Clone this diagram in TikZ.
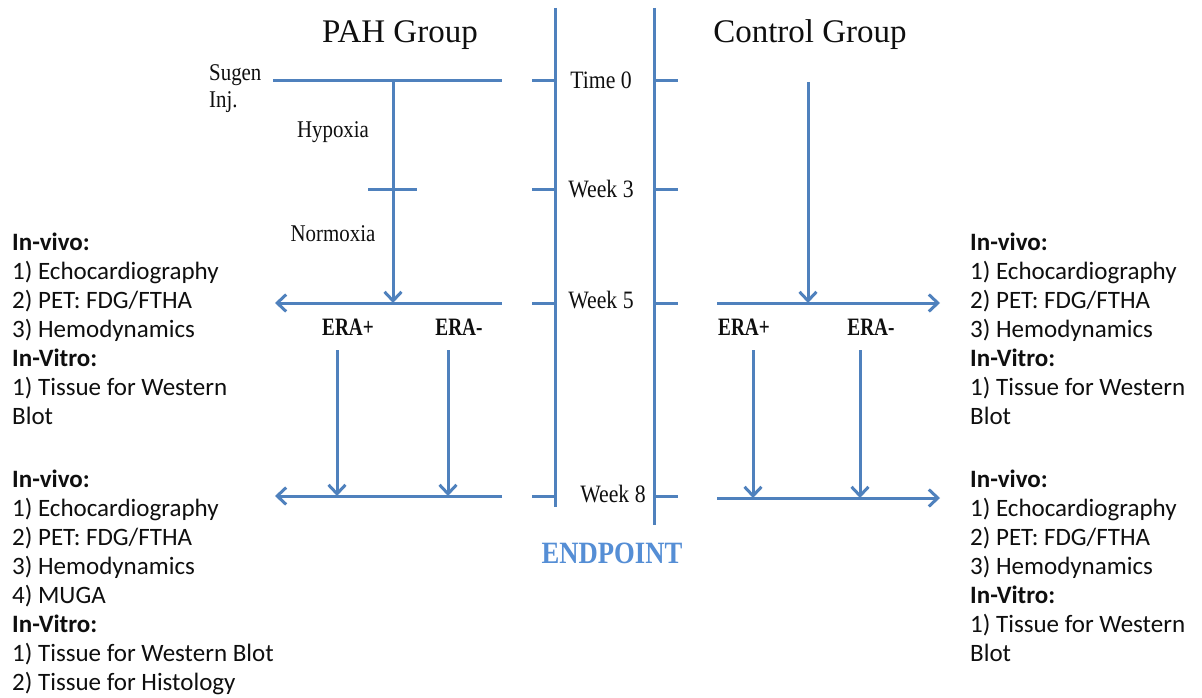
\documentclass[tikz,border=0pt]{standalone}
\usepackage{fontspec}
\setmainfont{Liberation Serif}
\newfontfamily\bodyfont{Carlito}
\newfontfamily\labelfont[FakeStretch=0.87]{Liberation Serif}
\newfontfamily\erafont[FakeStretch=0.77]{Liberation Serif}
\newfontfamily\endfont[FakeStretch=0.86]{Liberation Serif}
\usetikzlibrary{arrows.meta}
\definecolor{axisblue}{RGB}{79,129,189}
\definecolor{endblue}{RGB}{85,142,213}
\definecolor{inkgray}{RGB}{15,15,15}
\newcommand{\itemlines}[1]{\vtop{\baselineskip=29pt #1}}
\begin{document}
\begin{tikzpicture}[x=1pt,y=-1pt,
  link/.style={draw=axisblue,line width=3pt},
  flow/.style={link,-{Straight Barb[length=9pt,width=17pt]}},
  title/.style={inner sep=0pt,anchor=base,text=inkgray,font=\fontsize{33}{36}\selectfont},
  timelbl/.style={inner sep=0pt,anchor=base,text=inkgray,font=\labelfont\fontsize{25}{28}\selectfont},
  phase/.style={inner sep=0pt,anchor=base,text=inkgray,font=\labelfont\fontsize{24}{27}\selectfont},
  era/.style={inner sep=0pt,anchor=base,text=inkgray,font=\erafont\bfseries\fontsize{25}{28}\selectfont},
  listtext/.style={inner sep=0pt,anchor=base west,text=inkgray,font=\bodyfont\fontsize{25}{29}\selectfont},
]
\useasboundingbox[fill=white] (0,0) rectangle (1202,698);

% titles
\node[title] (pahTitle) at (400,43) {PAH Group};
\node[title] (ctlTitle) at (810,43) {Control Group};

% the two time axes with their week ticks
\coordinate (axLtop) at (555,8);   \coordinate (axLbot) at (555,507);
\coordinate (axRtop) at (654,8);   \coordinate (axRbot) at (654,525);
\draw[link] (axLtop) -- (axLbot);
\draw[link] (axRtop) -- (axRbot);
\foreach \y/\n in {81/t0,189/w3,303/w5,496/w8}{
  \coordinate (tickL\n a) at (532,\y); \coordinate (tickL\n b) at (555,\y);
  \coordinate (tickR\n a) at (654,\y); \coordinate (tickR\n b) at (678,\y);
  \draw[link] (tickL\n a) -- (tickL\n b);
  \draw[link] (tickR\n a) -- (tickR\n b);
}
\node[timelbl] (t0) at (601,89) {Time 0};
\node[timelbl] (w3) at (601,197) {Week 3};
\node[timelbl] (w5) at (601,308) {Week 5};
\node[timelbl] (w8) at (613,502) {Week 8};
\node[inner sep=0pt,anchor=base,text=endblue,font=\endfont\bfseries\fontsize{31}{34}\selectfont] (endpt) at (612,563) {ENDPOINT};

% PAH group timeline
\coordinate (sugL) at (273,81);  \coordinate (sugR) at (502,81);
\coordinate (pahTop) at (393,81); \coordinate (pahMid) at (393,303);
\coordinate (hypL) at (368,189);  \coordinate (hypR) at (417,189);
\coordinate (pw5R) at (502,303);  \coordinate (pw5L) at (275,303);
\coordinate (pw8R) at (502,496);  \coordinate (pw8L) at (275,496);
\coordinate (pEpT) at (337,350);  \coordinate (pEpB) at (337,496);
\coordinate (pEmT) at (448,350);  \coordinate (pEmB) at (448,496);
\draw[link] (sugL) -- (sugR);
\draw[link] (hypL) -- (hypR);
\draw[flow] (pahTop) -- (pahMid);
\draw[flow] (pw5R) -- (pw5L);
\draw[flow] (pEpT) -- (pEpB);
\draw[flow] (pEmT) -- (pEmB);
\draw[flow] (pw8R) -- (pw8L);

\node[phase,anchor=base west] (sugen) at (209,81) {\vtop{\baselineskip=27pt\hbox{Sugen}\hbox{Inj.}}};
\node[phase] (hypoxia) at (333,138) {Hypoxia};
\node[phase] (normoxia) at (333,241) {Normoxia};
\node[era] (pEraP) at (348,335) {ERA+};
\node[era] (pEraM) at (459,335) {ERA-};

% control group timeline
\coordinate (cTop) at (808,82);  \coordinate (cMid) at (808,303);
\coordinate (cw5L) at (717,303); \coordinate (cw5R) at (940,303);
\coordinate (cw8L) at (717,498); \coordinate (cw8R) at (940,498);
\coordinate (cEpT) at (753,350); \coordinate (cEpB) at (753,498);
\coordinate (cEmT) at (860,350); \coordinate (cEmB) at (860,498);
\draw[flow] (cTop) -- (cMid);
\draw[flow] (cw5L) -- (cw5R);
\draw[flow] (cEpT) -- (cEpB);
\draw[flow] (cEmT) -- (cEmB);
\draw[flow] (cw8L) -- (cw8R);
\node[era] (cEraP) at (744,335) {ERA+};
\node[era] (cEraM) at (871,335) {ERA-};

% measurement lists
\node[listtext] (pahW5) at (12,250) {\itemlines{%
  \hbox{\bfseries In-vivo:}\hbox{1) Echocardiography}\hbox{2) PET: FDG/FTHA}\hbox{3) Hemodynamics}%
  \hbox{\bfseries In-Vitro:}\hbox{1) Tissue for Western}\hbox{Blot}}};
\node[listtext] (pahW8) at (12,487) {\itemlines{%
  \hbox{\bfseries In-vivo:}\hbox{1) Echocardiography}\hbox{2) PET: FDG/FTHA}\hbox{3) Hemodynamics}\hbox{4) MUGA}%
  \hbox{\bfseries In-Vitro:}\hbox{1) Tissue for Western Blot}\hbox{2) Tissue for Histology}}};
\node[listtext] (ctlW5) at (970,250) {\itemlines{%
  \hbox{\bfseries In-vivo:}\hbox{1) Echocardiography}\hbox{2) PET: FDG/FTHA}\hbox{3) Hemodynamics}%
  \hbox{\bfseries In-Vitro:}\hbox{1) Tissue for Western}\hbox{Blot}}};
\node[listtext] (ctlW8) at (970,487) {\itemlines{%
  \hbox{\bfseries In-vivo:}\hbox{1) Echocardiography}\hbox{2) PET: FDG/FTHA}\hbox{3) Hemodynamics}%
  \hbox{\bfseries In-Vitro:}\hbox{1) Tissue for Western}\hbox{Blot}}};
\end{tikzpicture}
\end{document}
